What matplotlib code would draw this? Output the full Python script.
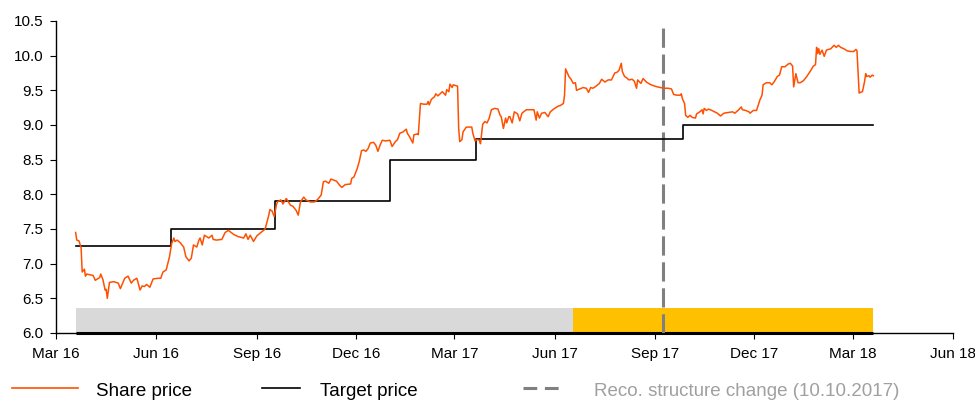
# =====================
# IMPORTS
# =====================
import datetime as dt

import matplotlib
matplotlib.use("Agg")
import matplotlib.pyplot as plt
import matplotlib.dates as mdates
from matplotlib.lines import Line2D
import numpy as np

plt.rcParams['font.family'] = ['Liberation Sans', 'DejaVu Sans']

# =====================
# DATA
# =====================
# all dates are day offsets from 1 Mar 2016
START = dt.date(2016, 3, 1)

price_days = [
    18, 19, 21, 23, 24, 26, 27, 28, 34, 36, 40, 41, 43, 45, 46, 47, 49, 53, 57, 59,
    63, 66, 69, 71, 74, 75, 77, 79, 81, 83, 86, 89, 94, 96, 98, 101, 104, 106, 108, 109,
    111, 114, 117, 119, 122, 124, 126, 129, 131, 132, 134, 136, 140, 143, 144, 147, 152, 155, 158, 163,
    167, 172, 174, 176, 178, 181, 184, 187, 191, 192, 195, 196, 198, 200, 202, 203, 206, 208, 211, 213,
    215, 217, 220, 222, 224, 227, 229, 233, 237, 240, 243, 245, 247, 250, 252, 257, 260, 262, 265, 270,
    271, 273, 276, 278, 280, 282, 284, 286, 288, 291, 293, 295, 297, 299, 302, 306, 308, 311, 313, 315,
    318, 321, 322, 324, 327, 328, 331, 332, 334, 337, 340, 341, 342, 344, 347, 348, 350, 352, 354, 357,
    358, 360, 361, 363, 364, 368, 369, 370, 372, 373, 376, 381, 382, 384, 386, 388, 389, 391, 393, 395,
    397, 399, 402, 405, 407, 408, 410, 412, 413, 415, 416, 418, 420, 423, 425, 427, 431, 436, 438, 440,
    441, 443, 445, 448, 451, 453, 456, 460, 462, 465, 466, 467, 470, 472, 474, 476, 477, 480, 483, 486,
    488, 490, 492, 494, 498, 500, 503, 506, 509, 512, 514, 516, 518, 519, 521, 523, 525, 528, 530, 532,
    533, 536, 538, 541, 544, 547, 551, 554, 557, 561, 564, 566, 569, 572, 573, 574, 576, 577, 579, 581,
    583, 586, 587, 590, 592, 593, 594, 596, 598, 601, 606, 609, 612, 616, 620, 622, 625, 628, 629, 632,
    635, 636, 639, 642, 645, 647, 648, 651, 654, 656, 658, 661, 663, 665, 668, 671, 673, 675, 676, 678,
    680, 682, 685, 688, 691, 694, 696, 697, 698, 699, 700, 702, 704, 706, 710, 713, 715, 717, 719, 722,
    725, 728, 731, 733, 734, 736, 737, 739, 741, 742, 743, 745, 746, 748, 749,
]
price_vals = [
    7.45, 7.34, 7.33, 7.23, 6.88, 6.92, 6.82, 6.85, 6.83, 6.76, 6.80, 6.85, 6.77, 6.62, 6.63, 6.50, 6.73, 6.74, 6.72, 6.64,
    6.79, 6.82, 6.72, 6.76, 6.79, 6.74, 6.62, 6.68, 6.67, 6.70, 6.66, 6.78, 6.79, 6.79, 6.88, 6.91, 7.10, 7.29, 7.37, 7.32,
    7.34, 7.30, 7.24, 7.10, 7.04, 7.08, 7.27, 7.24, 7.34, 7.37, 7.27, 7.41, 7.37, 7.41, 7.35, 7.34, 7.35, 7.45, 7.48, 7.42,
    7.39, 7.37, 7.43, 7.35, 7.41, 7.32, 7.40, 7.44, 7.49, 7.52, 7.70, 7.78, 7.76, 7.68, 7.85, 7.89, 7.92, 7.86, 7.94, 7.89,
    7.84, 7.83, 7.77, 7.70, 7.89, 7.96, 7.92, 7.89, 7.89, 7.93, 7.99, 8.18, 8.19, 8.16, 8.22, 8.19, 8.13, 8.10, 8.14, 8.15,
    8.23, 8.25, 8.37, 8.48, 8.63, 8.64, 8.62, 8.66, 8.74, 8.75, 8.71, 8.62, 8.71, 8.78, 8.77, 8.78, 8.69, 8.76, 8.79, 8.88,
    8.90, 8.94, 8.88, 8.83, 8.74, 8.86, 8.87, 8.86, 9.31, 9.30, 9.30, 9.34, 9.29, 9.37, 9.41, 9.45, 9.42, 9.45, 9.48, 9.43,
    9.51, 9.48, 9.59, 9.54, 9.58, 9.56, 8.95, 8.76, 8.79, 8.90, 8.97, 8.97, 8.88, 8.77, 8.79, 8.78, 8.73, 9.01, 9.05, 9.03,
    9.10, 9.22, 9.24, 9.23, 9.14, 9.12, 8.95, 9.10, 9.03, 9.12, 9.12, 9.03, 9.19, 9.16, 9.06, 9.17, 9.22, 9.22, 9.22, 9.07,
    9.19, 9.10, 9.17, 9.18, 9.12, 9.19, 9.23, 9.27, 9.28, 9.31, 9.43, 9.81, 9.70, 9.66, 9.60, 9.61, 9.50, 9.52, 9.54, 9.53,
    9.47, 9.54, 9.53, 9.55, 9.60, 9.66, 9.62, 9.65, 9.65, 9.75, 9.76, 9.79, 9.89, 9.77, 9.70, 9.68, 9.65, 9.66, 9.63, 9.53,
    9.65, 9.60, 9.67, 9.62, 9.59, 9.57, 9.55, 9.54, 9.53, 9.53, 9.52, 9.44, 9.43, 9.43, 9.45, 9.38, 9.31, 9.14, 9.11, 9.14,
    9.11, 9.10, 9.16, 9.19, 9.22, 9.16, 9.24, 9.21, 9.23, 9.21, 9.17, 9.13, 9.17, 9.18, 9.19, 9.17, 9.21, 9.26, 9.22, 9.21,
    9.19, 9.17, 9.21, 9.21, 9.36, 9.43, 9.58, 9.61, 9.61, 9.58, 9.62, 9.70, 9.72, 9.84, 9.84, 9.88, 9.89, 9.85, 9.55, 9.74,
    9.61, 9.61, 9.64, 9.70, 9.77, 9.85, 9.87, 10.12, 10.03, 10.10, 10.02, 10.08, 9.99, 10.08, 10.10, 10.15, 10.12, 10.15, 10.12, 10.10,
    10.07, 10.06, 10.06, 10.09, 10.07, 9.46, 9.47, 9.48, 9.63, 9.74, 9.70, 9.71, 9.69, 9.72, 9.71,
]

# target price: day it was set and the level
target_days = [18, 105, 201, 306, 385, 575, 749]
target_vals = [7.25, 7.50, 7.90, 8.50, 8.80, 9.00, 9.00]

# recommendation bands at the bottom (grey, then yellow)
band_days = [18, 474, 749]
band_colors = ['#d9d9d9', '#ffc000']
band_top = 6.36

reco_change_day = 556

# =====================
# HELPERS
# =====================
def to_dates(days):
    return [START + dt.timedelta(days=d) for d in days]

price_dates = to_dates(price_days)
target_dates = to_dates(target_days)
band_dates = to_dates(band_days)
reco_date = START + dt.timedelta(days=reco_change_day)

ORANGE = '#ff5000'
GREY_DASH = '#808080'

# =====================
# FIGURE
# =====================
fig = plt.figure(figsize=(9.75, 4.0), dpi=100)
ax = fig.add_axes([56 / 975, 1 - 333 / 400, (953 - 56) / 975, (333 - 21) / 400])

# recommendation bands
for i in range(len(band_colors)):
    ax.fill_between([band_dates[i], band_dates[i + 1]], 6.0, band_top,
                    color=band_colors[i], lw=0, zorder=1)
ax.plot([band_dates[0], band_dates[-1]], [6.0, 6.0], color='black', lw=2.2,
        solid_capstyle='butt', zorder=3, clip_on=False)

# reco structure change marker
ax.axvline(reco_date, ymin=0, ymax=0.985, color=GREY_DASH, lw=2.2,
           dashes=(6.3, 2.2), zorder=4)

# target price (step) and share price
ax.plot(target_dates, target_vals, drawstyle='steps-post', color='black',
        lw=1.2, zorder=5)
ax.plot(price_dates, price_vals, color=ORANGE, lw=1.1, zorder=6)

# =====================
# AXES STYLE
# =====================
ax.set_xlim(dt.date(2016, 3, 1), dt.date(2018, 6, 1))
ax.set_ylim(6.0, 10.5)
ax.set_yticks(np.arange(6.0, 10.51, 0.5))
ax.yaxis.set_major_formatter(plt.FormatStrFormatter('%.1f'))
ax.xaxis.set_major_locator(mdates.MonthLocator(bymonth=[3, 6, 9, 12]))
ax.xaxis.set_major_formatter(mdates.DateFormatter('%b %y'))

for side in ['top', 'right']:
    ax.spines[side].set_visible(False)
for side in ['left', 'bottom']:
    ax.spines[side].set_linewidth(1.0)
ax.tick_params(axis='both', direction='out', length=4, width=0.8,
               labelsize=11, colors='black')
ax.tick_params(axis='x', pad=6)
ax.tick_params(axis='y', pad=5)

# =====================
# LEGEND (manual, below the chart)
# =====================
ly = 1 - 388 / 400
ty = 1 - 392 / 400
fig.add_artist(Line2D([12 / 975, 78 / 975], [ly, ly], color=ORANGE, lw=1.2))
fig.text(96 / 975, ty, 'Share price', fontsize=13.5, va='center', color='black')
fig.add_artist(Line2D([262 / 975, 300 / 975], [ly, ly], color='black', lw=1.2))
fig.text(320 / 975, ty, 'Target price', fontsize=13.5, va='center', color='black')
fig.add_artist(Line2D([523 / 975, 560 / 975], [ly, ly], color=GREY_DASH, lw=2.2,
                      dashes=(4.5, 2.5)))
fig.text(594 / 975, ty, 'Reco. structure change (10.10.2017)', fontsize=13.5,
         va='center', color='#a0a0a0')

fig.savefig('out.png', dpi=100)
